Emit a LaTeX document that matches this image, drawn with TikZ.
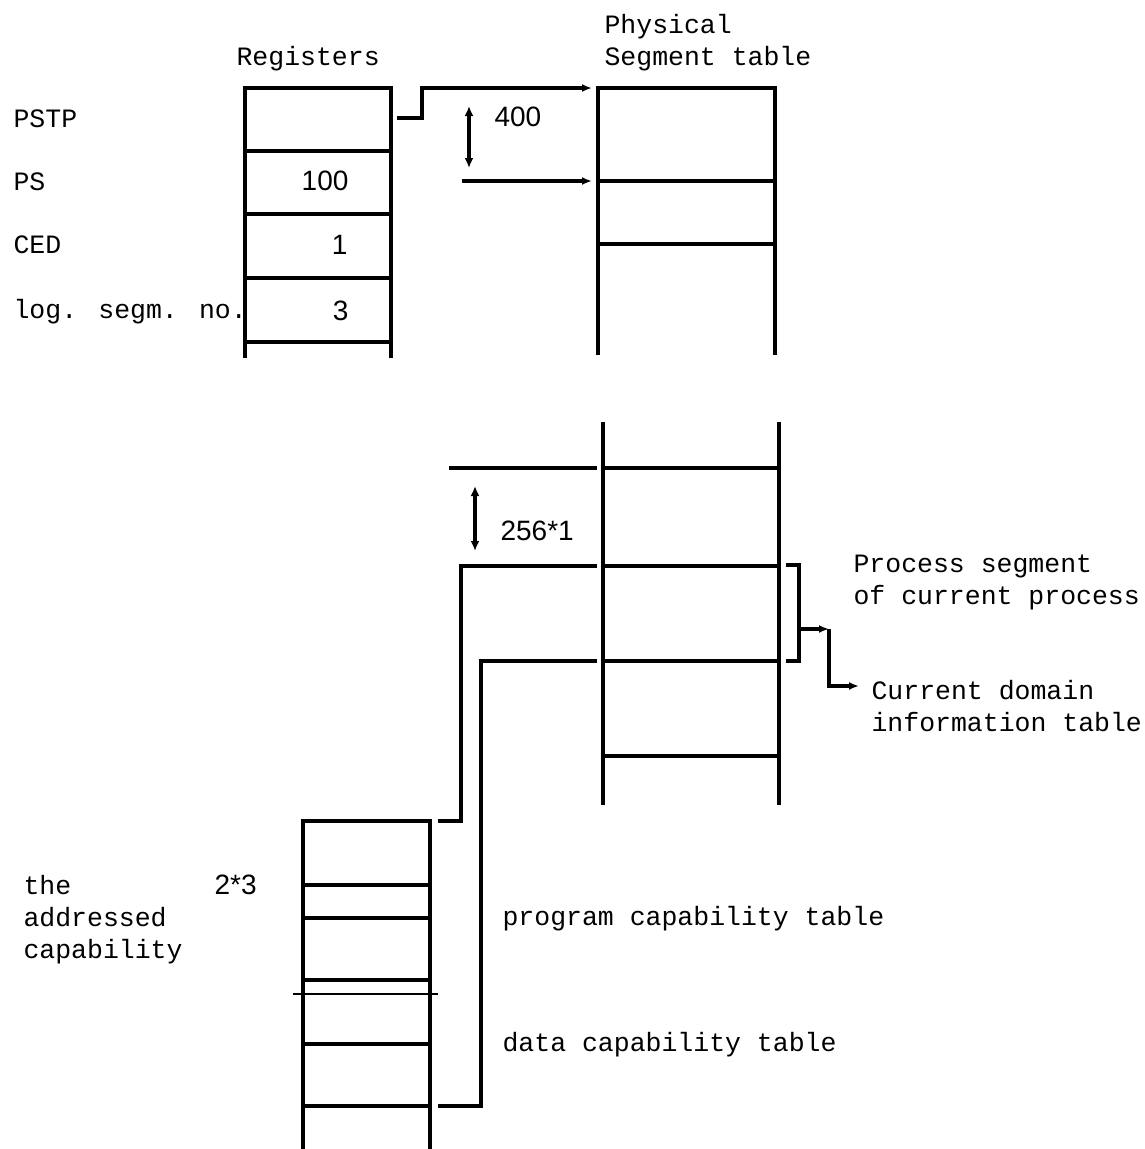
\documentclass[tikz,border=0pt]{standalone}
\usepackage{fontspec}
\setmainfont{Liberation Mono}
\newfontfamily\numfont{Liberation Sans}
\usetikzlibrary{arrows.meta}
\begin{document}
\begin{tikzpicture}[x=1pt,y=-1pt, line width=3.1pt,
  lbl/.style={anchor=base west, inner sep=0pt, font=\fontsize{26.5}{30}\selectfont},
  num/.style={anchor=base east, inner sep=0pt, font=\numfont\fontsize{28}{30}\selectfont},
  numw/.style={anchor=base west, inner sep=0pt, font=\numfont\fontsize{28}{30}\selectfont},
  tbl/.style={line width=3.1pt},
  tip/.style={-{Latex[length=10pt,width=8pt]}},
  dtip/.style={{Latex[length=10pt,width=9pt]}-{Latex[length=10pt,width=9pt]}}]
\useasboundingbox (0,0) rectangle (1145,1149);

% ---------- Registers ----------
\node[lbl] (regtitle) at (235,65) {Registers};
\draw[tbl] (245,358) -- (245,88) -- (391,88) -- (391,358);
\foreach \y in {151,214,278,342} \draw[tbl] (245,\y) -- (391,\y);
\node[lbl] (pstp) at (12,127) {PSTP};
\node[lbl] (ps) at (12,190) {PS};
\node[lbl] (ced) at (12,253) {CED};
\node[lbl] (lsn) at (12,318) {log. segm. no.};
\node[num] (v100) at (350,190) {100};
\node[num] (v1) at (349,254) {1};
\node[num] (v3) at (350,320) {3};

% ---------- Physical segment table (top part) ----------
\node[lbl] (phys1) at (603,33) {Physical};
\node[lbl] (phys2) at (603,65) {Segment table};
\draw[tbl] (598,355) -- (598,88) -- (775,88) -- (775,355);
\foreach \y in {181,244} \draw[tbl] (598,\y) -- (775,\y);

\coordinate (pstpout) at (397,118);
\coordinate (psttop) at (592,88);
\draw[tip] (pstpout) -- (422,118) -- (422,88) -- (psttop);
\draw[dtip] (469,106) -- (469,168);
\node[numw] (off400) at (493,126) {400};
\coordinate (psfrom) at (462,181);
\coordinate (psentry) at (592,181);
\draw[tip] (psfrom) -- (psentry);

% ---------- Physical segment table (lower part) ----------
\draw[tbl] (603,422) -- (603,805);
\draw[tbl] (779,422) -- (779,805);
\foreach \y in {468,566,661,756} \draw[tbl] (603,\y) -- (779,\y);
\draw[tbl] (449,468) -- (597,468);
\draw[dtip] (475,486) -- (475,551);
\node[numw] (off256) at (499,540) {256*1};

% bracket and outputs
\draw[tbl] (786,565) -- (799,565) -- (799,661) -- (786,661);
\coordinate (brmid) at (799,629);
\coordinate (brturn) at (829,629);
\draw[tip] (brmid) -- (brturn);
\coordinate (cdit) at (859,686);
\draw[tip] (brturn) -- (829,686) -- (cdit);
\node[lbl] (procseg1) at (852,572) {Process segment};
\node[lbl] (procseg2) at (852,604) {of current process};
\node[lbl] (cdi1) at (870,699) {Current domain};
\node[lbl] (cdi2) at (870,731) {information table};

% ---------- Capability tables ----------
\draw[tbl] (303,1149) -- (303,821) -- (430,821) -- (430,1149);
\foreach \y in {885,918,980,1044,1106} \draw[tbl] (303,\y) -- (430,\y);
\draw[line width=2pt] (293,994) -- (438,994);

\coordinate (pctop) at (438,821);
\coordinate (pcent) at (597,566);
\draw[tbl] (pctop) -- (461,821) -- (461,566) -- (pcent);
\coordinate (dcbot) at (438,1106);
\coordinate (dcent) at (597,661);
\draw[tbl] (dcbot) -- (481,1106) -- (481,661) -- (dcent);

\node[lbl] (the) at (22,894) {the};
\node[lbl] (addr) at (22,926) {addressed};
\node[lbl] (capab) at (22,958) {capability};
\node[numw] (off23) at (213,894) {2*3};
\node[lbl] (pct) at (501,925) {program capability table};
\node[lbl] (dct) at (501,1051) {data capability table};
\end{tikzpicture}
\end{document}
